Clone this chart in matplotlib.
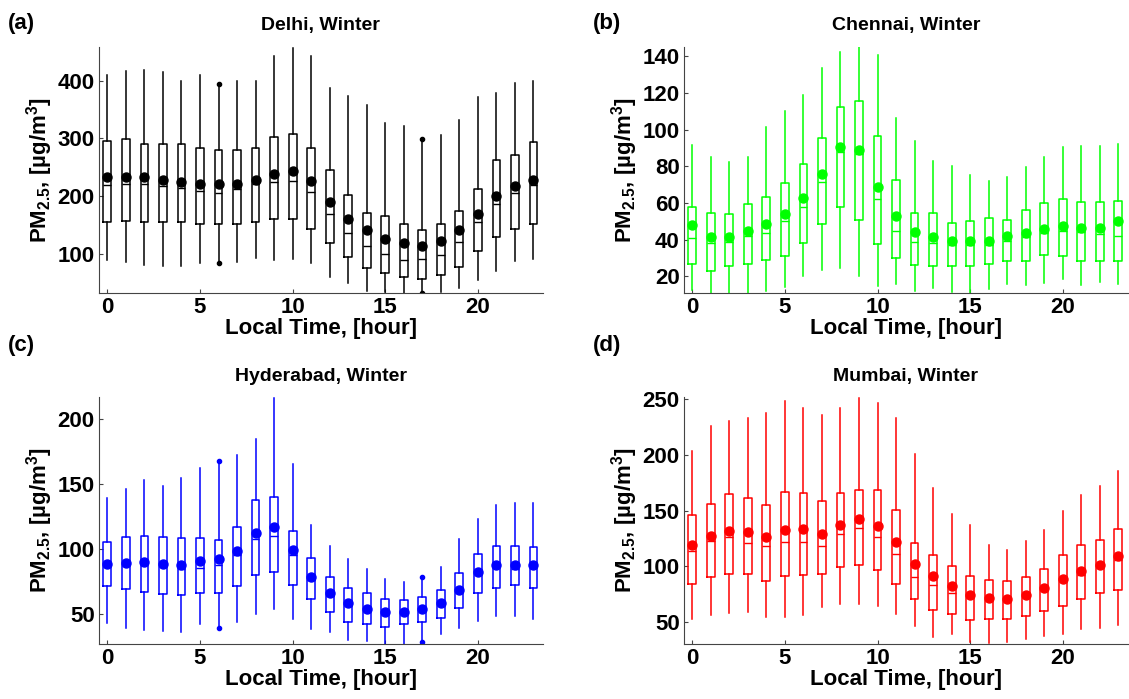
import matplotlib
matplotlib.use('Agg')
import matplotlib.pyplot as plt

plt.rcParams['font.family'] = ['Liberation Sans', 'DejaVu Sans']
plt.rcParams['font.weight'] = 'bold'
plt.rcParams['mathtext.fontset'] = 'custom'
plt.rcParams['mathtext.rm'] = 'Liberation Sans:bold'
plt.rcParams['mathtext.it'] = 'Liberation Sans:bold'
plt.rcParams['mathtext.bf'] = 'Liberation Sans:bold'
plt.rcParams['mathtext.default'] = 'rm'

hours = list(range(24))

# Delhi, Winter
delhi_lo = [90, 87, 82, 80, 80, 85, 84, 86, 93, 90, 91, 85,
            60, 51, 36, 35, 33, 33, 35, 42, 55, 71, 88, 91]
delhi_q1 = [155, 157, 156, 155, 155, 152, 152, 152, 156, 161, 160, 143,
            120, 96, 77, 67, 60, 58, 64, 78, 106, 130, 144, 153]
delhi_med = [219, 221, 221, 217, 214, 210, 206, 212, 222, 225, 226, 207,
             170, 136, 115, 100, 90, 92, 98, 121, 155, 187, 206, 220]
delhi_q3 = [295, 299, 290, 291, 290, 283, 280, 280, 284, 303, 308, 284,
            246, 202, 171, 166, 152, 141, 153, 174, 212, 262, 272, 294]
delhi_hi = [410, 416, 418, 414, 400, 409, 394, 400, 399, 442, 457, 442,
            387, 373, 357, 326, 322, 299, 306, 332, 371, 378, 395, 399]
delhi_mean = [233, 233, 233, 229, 225, 222, 221, 221, 229, 239, 244, 226,
              190, 161, 141, 127, 119, 115, 122, 141, 169, 201, 218, 229]
delhi_fliers = {6: [394, 84], 17: [299, 33]}

# Chennai, Winter
chennai_lo = [12.7, 11, 11, 11, 12.2, 14.5, 20, 23.6, 24.5, 20, 14.9, 15.8,
              12.2, 13.6, 11.8, 11, 13.1, 15.8, 15.5, 16.4, 18.5, 15.5, 16.9, 15.8]
chennai_q1 = [26.7, 23.1, 25.5, 26.7, 29.1, 31.1, 38.2, 48.5, 58.0, 50.9, 37.6, 30.2,
              26.2, 25.8, 25.8, 25.8, 26.7, 28.2, 28.2, 31.8, 30.9, 28.2, 28.2, 28.2]
chennai_med = [40.9, 38.2, 38.7, 42.2, 43.5, 50.2, 58.0, 71.3, 88.0, 86.9, 62.0, 44.9,
               38.9, 38.0, 37.1, 37.1, 37.3, 39.6, 41.6, 43.6, 44.9, 44.2, 43.3, 41.8]
chennai_q3 = [57.8, 54.7, 54.0, 59.3, 63.1, 70.7, 81.1, 95.5, 112.2, 115.5, 96.4, 72.4,
              54.7, 54.7, 48.9, 50.0, 51.6, 50.9, 56.0, 60.0, 62.0, 60.4, 60.4, 60.9]
chennai_hi = [91.8, 85.1, 82.2, 85.1, 101.5, 110.4, 119.1, 133.3, 142.4, 145.1, 140.4, 106.4,
              93.8, 82.9, 80.0, 75.3, 72.2, 74.0, 79.6, 85.1, 90.4, 91.3, 91.3, 92.2]
chennai_mean = [48.0, 41.6, 41.3, 44.9, 48.7, 54.0, 62.9, 76.0, 90.4, 89.1, 68.5, 52.9,
                44.0, 41.5, 39.5, 39.5, 39.6, 41.8, 43.5, 45.8, 47.3, 46.5, 46.5, 50.0]
chennai_fliers = {}

# Hyderabad, Winter
hyd_lo = [43.1, 39.0, 37.7, 36.9, 36.2, 42.3, 39.0, 44.1, 50, 53.8, 46.2, 38.5,
          35.9, 30.0, 29.0, 27, 27, 28.2, 34.4, 39.0, 44.9, 48.7, 48.7, 46.2]
hyd_q1 = [71.8, 69.0, 67.2, 65.4, 64.4, 66.4, 65.9, 71.8, 80.0, 82.3, 72.6, 61.8,
          51.3, 44.1, 42.3, 39.7, 42.3, 44.1, 47.1, 54.9, 65.9, 70.3, 72.1, 70.3]
hyd_med = [87, 88, 89, 86.7, 84.6, 85.4, 88.2, 95.9, 107.7, 110, 95.4, 76,
           64, 57, 53, 50.5, 50.5, 53, 57.5, 67.5, 81.5, 87, 85.1, 86.5]
hyd_q3 = [105.6, 109.0, 110.3, 109.0, 108.5, 108.5, 106.9, 116.9, 138.2, 140.3, 114.1, 93.3,
          78.2, 70.3, 65.9, 61.5, 60.8, 62.8, 68.5, 81.3, 96.2, 102.6, 102.6, 101.3]
hyd_hi = [139.7, 146.2, 153.1, 148.7, 155.1, 162.6, 168.0, 172.3, 184.6, 216.7, 165.9, 118.5,
          102.1, 92.3, 85.1, 76.9, 75.1, 78.5, 86.2, 107.7, 123.1, 134.1, 135.4, 135.4]
hyd_mean = [88.7, 89.5, 90.3, 88.7, 88.2, 90.8, 92.3, 98.5, 112.8, 117.2, 99.2, 78.7,
            65.9, 58.5, 54.1, 51.8, 51.3, 53.8, 58.5, 68.5, 82.6, 88.2, 88.2, 87.7]
hyd_fliers = {6: [168.0, 39.0], 17: [78.5, 28.2]}

# Mumbai, Winter
mum_lo = [52.4, 56.0, 57.5, 58.9, 53.9, 54.5, 56.0, 63.1, 65.8, 66.4, 64.0, 56.9,
          46.4, 36.6, 39.3, 32.1, 30.5, 32.1, 34.2, 37.2, 39.3, 43.4, 44.0, 47.0]
mum_q1 = [84.3, 90.3, 93.3, 93.3, 87.0, 91.5, 92.4, 93.0, 99.3, 101.4, 96.3, 84.3,
          70.3, 61.0, 57.2, 51.5, 52.7, 52.7, 55.4, 59.6, 64.3, 70.3, 76.0, 79.0]
mum_med = [113.3, 123.1, 126.1, 121.0, 117.8, 122.2, 122.2, 118.4, 129.1, 134.2, 126.1, 111.2,
           90.6, 82.8, 76.3, 72.5, 70.0, 69.5, 72.0, 79.0, 87.0, 92.4, 99.5, 105.2]
mum_q3 = [146.1, 156.3, 164.9, 161.0, 155.4, 166.4, 165.5, 159.0, 165.5, 168.8, 168.8, 150.9,
          121.0, 110.3, 100.1, 90.9, 87.3, 86.4, 90.3, 97.5, 110.0, 118.7, 123.7, 133.9]
mum_hi = [203.7, 226.1, 230.6, 233.0, 237.5, 248.5, 241.9, 236.0, 242.5, 250.9, 246.4, 233.0,
          200.7, 170.0, 147.0, 137.2, 119.4, 114.6, 122.4, 132.4, 149.4, 164.0, 171.8, 185.2]
mum_mean = [118.7, 127.6, 132.1, 130.6, 126.7, 133.0, 133.9, 129.4, 137.5, 142.5, 136.6, 121.6,
            102.2, 90.9, 81.9, 74.5, 71.5, 70.9, 73.9, 80.7, 88.5, 95.4, 101.3, 108.8]
mum_fliers = {}


def draw_panel(ax, lo, q1, med, q3, hi, mean, fliers, color, ylim, yticks, title):
    stats = []
    for i in range(len(hours)):
        stats.append(dict(whislo=lo[i], q1=q1[i], med=med[i], q3=q3[i],
                          whishi=hi[i], mean=mean[i], fliers=fliers.get(i, [])))
    ax.bxp(stats, positions=hours, widths=0.42, showmeans=True,
           showcaps=False, showfliers=True,
           boxprops=dict(color=color, linewidth=1.1),
           whiskerprops=dict(color=color, linewidth=1.1),
           medianprops=dict(color=color, linewidth=1.0),
           meanprops=dict(marker='o', markerfacecolor=color,
                          markeredgecolor=color, markersize=6.5),
           flierprops=dict(marker='o', markerfacecolor=color,
                           markeredgecolor=color, markersize=3))
    ax.set_xlim(-0.45, 23.5)
    ax.set_ylim(ylim)
    ax.set_xticks([0, 5, 10, 15, 20])
    ax.set_xticklabels(['0', '5', '10', '15', '20'])
    ax.set_yticks(yticks)
    ax.set_yticklabels([str(t) for t in yticks])
    for s in ['top', 'right']:
        ax.spines[s].set_visible(False)
    for s in ['left', 'bottom']:
        ax.spines[s].set_color('#444444')
        ax.spines[s].set_linewidth(0.8)
    ax.tick_params(direction='in', length=3, width=0.8, color='#444444',
                   labelsize=16, pad=3)
    ax.set_xlabel('Local Time, [hour]', fontsize=16, fontweight='bold', labelpad=0)
    ax.set_ylabel('PM$_{2.5}$, [µg/m$^3$]', fontsize=16, fontweight='bold', labelpad=2)
    ax.set_title(title, fontsize=14, fontweight='bold', pad=12)


fig = plt.figure(figsize=(11.29, 6.99), dpi=100)
ax_a = fig.add_axes([0.0877, 0.5808, 0.393, 0.352])
ax_b = fig.add_axes([0.6058, 0.5808, 0.393, 0.352])
ax_c = fig.add_axes([0.0877, 0.0787, 0.393, 0.353])
ax_d = fig.add_axes([0.6058, 0.0787, 0.393, 0.353])

draw_panel(ax_a, delhi_lo, delhi_q1, delhi_med, delhi_q3, delhi_hi, delhi_mean,
           delhi_fliers, 'black', (33, 458), [100, 200, 300, 400], 'Delhi, Winter')
draw_panel(ax_b, chennai_lo, chennai_q1, chennai_med, chennai_q3, chennai_hi, chennai_mean,
           chennai_fliers, '#00ff00', (11, 145), [20, 40, 60, 80, 100, 120, 140], 'Chennai, Winter')
draw_panel(ax_c, hyd_lo, hyd_q1, hyd_med, hyd_q3, hyd_hi, hyd_mean,
           hyd_fliers, '#0000ff', (27, 217), [50, 100, 150, 200], 'Hyderabad, Winter')
draw_panel(ax_d, mum_lo, mum_q1, mum_med, mum_q3, mum_hi, mum_mean,
           mum_fliers, '#ff0000', (30, 252), [50, 100, 150, 200, 250], 'Mumbai, Winter')

fig.text(0.007, 0.967, '(a)', fontsize=16, fontweight='bold', va='center')
fig.text(0.525, 0.967, '(b)', fontsize=16, fontweight='bold', va='center')
fig.text(0.007, 0.506, '(c)', fontsize=16, fontweight='bold', va='center')
fig.text(0.525, 0.506, '(d)', fontsize=16, fontweight='bold', va='center')

fig.savefig('out.png', dpi=100)
